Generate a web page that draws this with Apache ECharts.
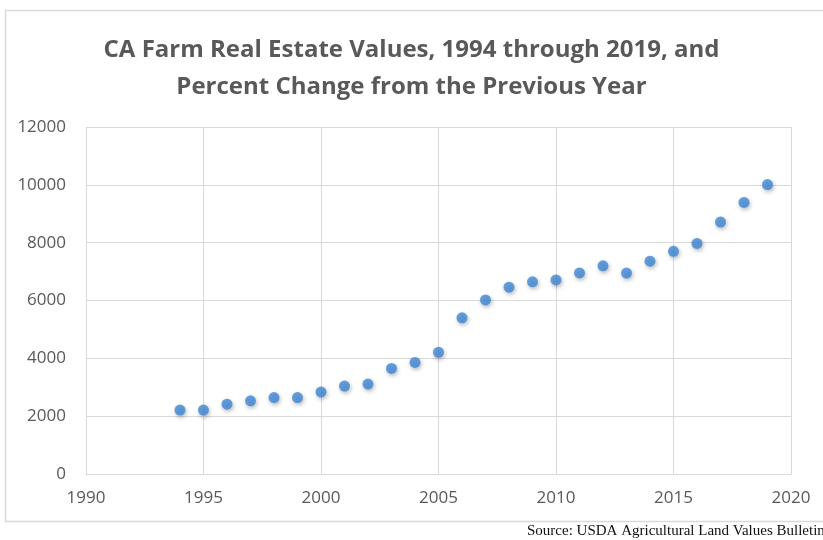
<!DOCTYPE html>
<html>
<head>
<meta charset="utf-8">
<script src="https://cdn.jsdelivr.net/npm/echarts@6/dist/echarts.min.js"></script>
<style>
html,body{margin:0;padding:0;background:#fff;}
#chart{width:823px;height:540px;}
</style>
</head>
<body>
<div id="chart"></div>
<script>
var years = [1994,1995,1996,1997,1998,1999,2000,2001,2002,2003,2004,2005,2006,2007,2008,2009,2010,2011,2012,2013,2014,2015,2016,2017,2018,2019];
var values = [2210,2210,2415,2530,2645,2645,2840,3040,3110,3650,3860,4210,5400,6020,6460,6645,6710,6955,7200,6950,7360,7700,7975,8715,9390,10010];
var titleLines = ['CA Farm Real Estate Values, 1994 through 2019, and','Percent Change from the Previous Year'];
var sourceText = 'Source: USDA Agricultural Land Values Bulletin';

var points = years.map(function(y,i){return [y, values[i]];});
var chart = echarts.init(document.getElementById('chart'));
chart.setOption({
  animation:false,
  backgroundColor:'#ffffff',
  title:{
    text:titleLines.join('\n'),
    left:'center',
    top:27,
    textStyle:{fontFamily:'Open Sans',fontWeight:'bold',fontSize:24,color:'#595959',lineHeight:37}
  },
  graphic:[
    {type:'rect',shape:{x:5.5,y:10.5,width:900,height:511},style:{fill:'none',stroke:'#d9d9d9',lineWidth:1.5},silent:true},
    {type:'text',left:527,top:524,style:{text:sourceText,font:'15px "Liberation Serif"',fill:'#111'},silent:true}
  ],
  grid:{left:86,right:32,top:127,bottom:66},
  xAxis:{
    type:'value',min:1990,max:2020,interval:5,
    axisLine:{show:true,lineStyle:{color:'#d9d9d9',width:1}},
    axisTick:{show:false},
    splitLine:{show:true,lineStyle:{color:'#d9d9d9',width:1}},
    axisLabel:{color:'#595959',fontFamily:'Open Sans',fontSize:17,margin:16,formatter:function(v){return String(v);}}
  },
  yAxis:{
    type:'value',min:0,max:12000,interval:2000,
    axisLine:{show:false},
    axisTick:{show:false},
    splitLine:{show:true,lineStyle:{color:'#d9d9d9',width:1}},
    axisLabel:{color:'#595959',fontFamily:'Open Sans',fontSize:17,margin:20,formatter:function(v){return String(v);}}
  },
  series:[{
    type:'scatter',
    data:points,
    symbol:'circle',
    symbolSize:11,
    itemStyle:{color:'#3f87d5',shadowBlur:4,shadowColor:'rgba(0,0,0,0.35)',shadowOffsetX:1,shadowOffsetY:2}
  }]
});
</script>
</body>
</html>
